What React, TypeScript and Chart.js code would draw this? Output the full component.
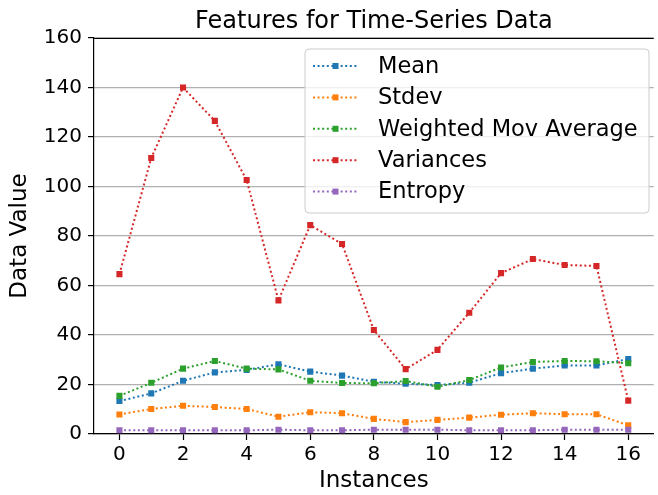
import React, { useEffect, useRef } from "react";
import { Chart, registerables } from "chart.js";

Chart.register(...registerables);

const instances = [0, 1, 2, 3, 4, 5, 6, 7, 8, 9, 10, 11, 12, 13, 14, 15, 16];
const meanValues = [13.3, 16.4, 21.5, 24.9, 25.9, 28.2, 25.2, 23.6, 21.1, 20.3, 19.8, 20.7, 24.6, 26.4, 27.7, 27.7, 30.3];
const stdevValues = [7.9, 10.1, 11.4, 10.9, 10.1, 7.0, 8.8, 8.4, 6.1, 4.8, 5.7, 6.6, 7.8, 8.4, 8.0, 8.0, 3.5];
const wmaValues = [15.4, 20.7, 26.4, 29.5, 26.4, 26.1, 21.5, 20.6, 20.5, 21.4, 19.1, 21.8, 26.9, 29.1, 29.5, 29.4, 28.6];
const varianceValues = [64.6, 111.5, 140, 126.5, 102.6, 54, 84.4, 76.8, 42, 26.2, 34, 49, 65, 70.7, 68.3, 67.9, 13.5];
const entropyValues = [1.5, 1.5, 1.5, 1.5, 1.5, 1.75, 1.5, 1.5, 1.75, 1.75, 1.75, 1.5, 1.5, 1.5, 1.75, 1.75, 1.75];

const seriesLabels = ["Mean", "Stdev", "Weighted Mov Average", "Variances", "Entropy"];
const seriesColors = ["#1f77b4", "#ff7f0e", "#2ca02c", "#d62728", "#9467bd"];
const seriesValues = [meanValues, stdevValues, wmaValues, varianceValues, entropyValues];

const xTicks = [0, 2, 4, 6, 8, 10, 12, 14, 16];
const yTicks = [0, 20, 40, 60, 80, 100, 120, 140, 160];

const chartTitle = "Features for Time-Series Data";
const xTitle = "Instances";
const yTitle = "Data Value";

const FONT = "'DejaVu Sans', sans-serif";

const spinePlugin = {
  id: "topSpine",
  afterDraw(chart: any) {
    const { ctx, chartArea } = chart;
    ctx.save();
    ctx.strokeStyle = "#000";
    ctx.lineWidth = 1.2;
    ctx.beginPath();
    ctx.moveTo(chartArea.left, chartArea.top + 0.5);
    ctx.lineTo(chartArea.right, chartArea.top + 0.5);
    ctx.stroke();
    ctx.restore();
  },
};

const legendPlugin = {
  id: "mplLegend",
  afterDraw(chart: any) {
    const { ctx } = chart;
    const left = 305;
    const top = 49;
    const right = 649;
    const bottom = 213;
    const r = 4;
    ctx.save();
    ctx.beginPath();
    ctx.moveTo(left + r, top);
    ctx.lineTo(right - r, top);
    ctx.quadraticCurveTo(right, top, right, top + r);
    ctx.lineTo(right, bottom - r);
    ctx.quadraticCurveTo(right, bottom, right - r, bottom);
    ctx.lineTo(left + r, bottom);
    ctx.quadraticCurveTo(left, bottom, left, bottom - r);
    ctx.lineTo(left, top + r);
    ctx.quadraticCurveTo(left, top, left + r, top);
    ctx.closePath();
    ctx.fillStyle = "rgba(255,255,255,0.8)";
    ctx.fill();
    ctx.strokeStyle = "#cccccc";
    ctx.lineWidth = 1;
    ctx.stroke();

    chart.data.datasets.forEach((ds: any, i: number) => {
      const y = top + 17 + i * 31.4;
      ctx.strokeStyle = ds.borderColor;
      ctx.lineWidth = ds.borderWidth;
      ctx.setLineDash(ds.borderDash);
      ctx.beginPath();
      ctx.moveTo(313, y);
      ctx.lineTo(358, y);
      ctx.stroke();
      ctx.setLineDash([]);
      ctx.fillStyle = ds.backgroundColor;
      const s = 6;
      ctx.fillRect(335.5 - s / 2, y - s / 2, s, s);
      ctx.fillStyle = "#000";
      ctx.font = `22.5px ${FONT}`;
      ctx.textAlign = "left";
      ctx.textBaseline = "middle";
      ctx.fillText(ds.label, 378, y + 1);
    });
    ctx.restore();
  },
};

export default function App() {
  const canvasRef = useRef<HTMLCanvasElement | null>(null);

  useEffect(() => {
    document.body.style.margin = "0";
    const canvas = canvasRef.current;
    if (!canvas) return;
    const datasets = seriesLabels.map((label, i) => ({
      label,
      data: instances.map((x, j) => ({ x, y: seriesValues[i][j] })),
      borderColor: seriesColors[i],
      backgroundColor: seriesColors[i],
      borderWidth: 2,
      borderDash: [2, 2.6],
      pointStyle: "rect",
      pointRadius: 4.3,
      pointBorderWidth: 0,
      pointBackgroundColor: seriesColors[i],
      tension: 0,
      fill: false,
      order: seriesLabels.length - i,
    }));
    const chart = new Chart(canvas, {
      type: "line",
      data: { datasets },
      plugins: [spinePlugin, legendPlugin],
      options: {
        responsive: false,
        animation: false,
        devicePixelRatio: 1,
        layout: { padding: 0 },
        plugins: {
          legend: { display: false },
          tooltip: { enabled: false },
          title: {
            display: true,
            text: chartTitle,
            fullSize: false,
            color: "#000",
            font: { family: FONT, size: 24, weight: "normal", lineHeight: 1.2 },
            padding: { top: 7.5, bottom: 1.7 },
          },
        },
        scales: {
          x: {
            type: "linear",
            min: -0.8,
            max: 16.8,
            afterBuildTicks: (axis: any) => {
              axis.ticks = xTicks.map((v) => ({ value: v }));
            },
            afterFit: (scale: any) => {
              scale.height = 61;
            },
            grid: {
              drawOnChartArea: false,
              drawTicks: true,
              tickLength: 6,
              tickColor: "#000",
              tickWidth: 1.2,
            },
            border: { display: true, color: "#000", width: 1.2 },
            ticks: {
              color: "#000",
              font: { family: FONT, size: 20 },
              padding: 3,
              maxRotation: 0,
              autoSkip: false,
            },
            title: {
              display: true,
              text: xTitle,
              color: "#000",
              font: { family: FONT, size: 23, lineHeight: 1.2 },
              padding: { top: -1, bottom: 0 },
            },
          },
          y: {
            type: "linear",
            min: 0,
            max: 160,
            afterBuildTicks: (axis: any) => {
              axis.ticks = yTicks.map((v) => ({ value: v }));
            },
            afterFit: (scale: any) => {
              scale.width = 94;
            },
            grid: {
              color: "#b0b0b0",
              lineWidth: 1.2,
              drawTicks: true,
              tickLength: 6,
              tickColor: "#000",
              tickWidth: 1.2,
            },
            border: { display: true, color: "#000", width: 1.2 },
            ticks: {
              color: "#000",
              font: { family: FONT, size: 20 },
              padding: 6,
              autoSkip: false,
            },
            title: {
              display: true,
              text: yTitle,
              color: "#000",
              font: { family: FONT, size: 23, lineHeight: 1.2 },
              padding: { top: 6, bottom: 0 },
            },
          },
        },
      },
    } as any);
    return () => chart.destroy();
  }, []);

  return (
    <div style={{ width: 658, height: 495 }}>
      <canvas ref={canvasRef} width={658} height={495} />
    </div>
  );
}
